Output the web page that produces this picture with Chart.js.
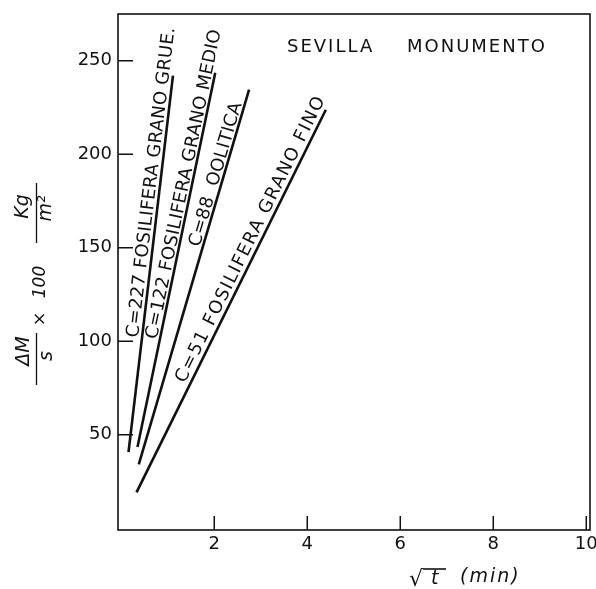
<!DOCTYPE html>
<html><head><meta charset="utf-8">
<script src="https://cdn.jsdelivr.net/npm/chart.js@4.4.1/dist/chart.umd.min.js"></script>
<style>html,body{margin:0;padding:0;background:#fff;} canvas{display:block;}</style>
</head><body>
<canvas id="c" width="596" height="589"></canvas>
<script>
// ---- data ----
const xTicks = [2, 4, 6, 8, 10];
const yTicks = [50, 100, 150, 200, 250];
const seriesNames = ['C=227 FOSILIFERA GRANO GRUE.', 'C=122 FOSILIFERA GRANO MEDIO', 'C=88  OOLITICA', 'C=51 FOSILIFERA GRANO FINO'];
const x227 = [0.156, 1.112]; const y227 = [40.7, 242.0];
const x122 = [0.349, 2.021]; const y122 = [43.4, 243.6];
const x88  = [0.377, 2.749]; const y88  = [34.1, 234.5];
const x51  = [0.328, 4.399]; const y51  = [19.1, 223.8];
const titleWords = ['SEVILLA', 'MONUMENTO'];

// ---- style / placement of annotations ----
const labelStyle = {
  startY: [101.5, 100.4, 149.6, 76.0],
  gap: [4, 3, 3, 5],
  spacing: ['0.3px', '0.3px', '0.2px', '1.5px'],
  font: '18px "DejaVu Sans"'
};
const INK = '#111';

const xs = [x227, x122, x88, x51];
const ys = [y227, y122, y88, y51];
const datasets = xs.map((xv, i) => ({
  label: seriesNames[i],
  data: xv.map((x, j) => ({ x: x, y: ys[i][j] })),
  showLine: true, borderColor: INK, borderWidth: 2.6, pointRadius: 0, fill: false
}));

const decor = {
  id: 'decor',
  afterDraw(chart) {
    const ctx = chart.ctx, a = chart.chartArea;
    const xs_ = chart.scales.x, ys_ = chart.scales.y;
    ctx.save();
    // frame
    ctx.strokeStyle = INK; ctx.lineWidth = 1.6;
    ctx.strokeRect(a.left, a.top, a.right - a.left, a.bottom - a.top);
    // inward ticks
    ctx.lineWidth = 1.5;
    ctx.beginPath();
    xTicks.forEach(v => { const px = xs_.getPixelForValue(v); ctx.moveTo(px, a.bottom); ctx.lineTo(px, a.bottom - 14); });
    yTicks.forEach(v => { const py = ys_.getPixelForValue(v); ctx.moveTo(a.left, py); ctx.lineTo(a.left + 15, py); });
    ctx.stroke();

    // labels along lines
    ctx.fillStyle = INK;
    ctx.font = labelStyle.font;
    ctx.textBaseline = 'alphabetic'; ctx.textAlign = 'left';
    datasets.forEach((ds, i) => {
      const pts = chart.getDatasetMeta(i).data;
      const p0 = pts[0], p1 = pts[1];
      const ang = Math.atan2(p1.y - p0.y, p1.x - p0.x);
      const yPix = ys_.getPixelForValue(labelStyle.startY[i]);
      const t = (p0.y - yPix) / (p0.y - p1.y);
      const sx = p0.x + t * (p1.x - p0.x), sy = p0.y + t * (p1.y - p0.y);
      const nx = Math.sin(ang), ny = -Math.cos(ang);
      ctx.save();
      ctx.letterSpacing = labelStyle.spacing[i];
      ctx.translate(sx + nx * labelStyle.gap[i], sy + ny * labelStyle.gap[i]);
      ctx.rotate(ang);
      ctx.fillText(ds.label, 0, 0);
      ctx.restore();
    });

    // title
    ctx.font = '18px "DejaVu Sans"';
    ctx.letterSpacing = '2px';
    ctx.fillText(titleWords[0], 287, 52);
    ctx.fillText(titleWords[1], 407, 52);
    ctx.letterSpacing = '0px';

    // y-axis title (rotated)
    const rot = (txt, cx, cy, font) => {
      ctx.save(); ctx.translate(cx, cy); ctx.rotate(-Math.PI / 2);
      ctx.font = font; ctx.textAlign = 'center'; ctx.textBaseline = 'middle';
      ctx.fillText(txt, 0, 0); ctx.restore();
    };
    rot('ΔM', 24.5, 351, 'italic 19px "DejaVu Sans"');
    rot('s', 47, 356, 'italic 19px "DejaVu Sans"');
    rot('×', 41, 319, '17px "DejaVu Sans"');
    rot('100', 41, 282, 'italic 17px "DejaVu Sans"');
    rot('Kg', 23.5, 206.5, 'italic 19px "DejaVu Sans"');
    rot('m²', 46, 208.5, 'italic 19px "DejaVu Sans"');
    ctx.lineWidth = 1.3;
    ctx.beginPath();
    ctx.moveTo(36.5, 333); ctx.lineTo(36.5, 385);
    ctx.moveTo(36.5, 183); ctx.lineTo(36.5, 243);
    ctx.stroke();

    // x-axis title
    ctx.textAlign = 'left'; ctx.textBaseline = 'alphabetic';
    ctx.font = '22px "DejaVu Sans"';
    const m = ctx.measureText('√');
    ctx.fillText('√', 409, 586);
    const topY = 586 - m.actualBoundingBoxAscent + 1;
    ctx.lineWidth = 1.6;
    ctx.beginPath();
    ctx.moveTo(409 + m.actualBoundingBoxRight - 1, topY); ctx.lineTo(446, topY);
    ctx.stroke();
    ctx.font = 'italic 19px "DejaVu Sans"';
    ctx.fillText('t', 431, 584);
    ctx.letterSpacing = '2px';
    ctx.fillText('(min)', 460, 582);
    ctx.letterSpacing = '0px';
    ctx.restore();
  }
};

new Chart(document.getElementById('c'), {
  type: 'scatter',
  data: { datasets: datasets },
  options: {
    responsive: false, animation: false, devicePixelRatio: 1,
    layout: { padding: { top: 14, right: 6, left: 0, bottom: 0 } },
    plugins: { legend: { display: false }, tooltip: { enabled: false } },
    scales: {
      x: {
        type: 'linear', min: -0.07, max: 10.08,
        afterBuildTicks: s => { s.ticks = xTicks.map(v => ({ value: v })); },
        afterFit: s => { s.height = 59; s.paddingLeft = 0; s.paddingRight = 0; },
        grid: { display: false, drawTicks: false }, border: { display: false },
        ticks: { color: INK, font: { family: 'DejaVu Sans', size: 18 }, padding: 4, maxRotation: 0, autoSkip: false }
      },
      y: {
        type: 'linear', min: -1, max: 275,
        afterBuildTicks: s => { s.ticks = yTicks.map(v => ({ value: v })); },
        afterFit: s => { s.width = 118; s.paddingTop = 0; s.paddingBottom = 0; },
        grid: { display: false, drawTicks: false }, border: { display: false },
        ticks: { color: INK, font: { family: 'DejaVu Sans', size: 18 }, padding: 6, autoSkip: false }
      }
    }
  },
  plugins: [decor]
});
</script>
</body></html>
